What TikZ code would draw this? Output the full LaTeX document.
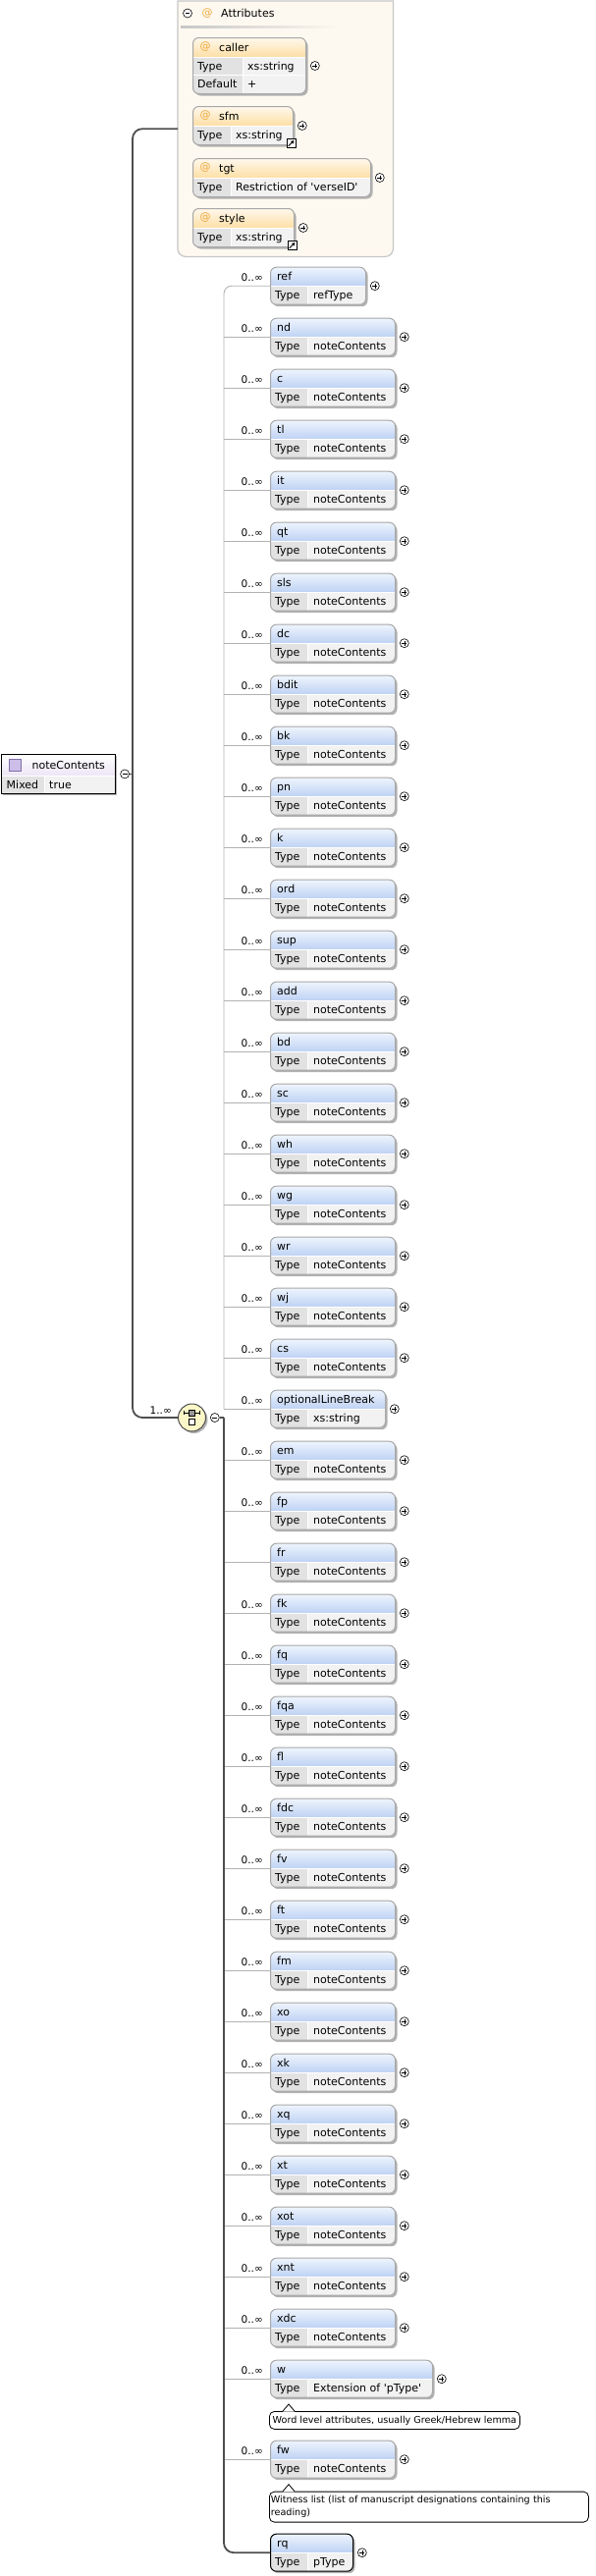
\documentclass[tikz,border=0pt]{standalone}
\usepackage{fontspec}
\setmainfont{DejaVu Sans}
\usepackage{xcolor}
\definecolor{hdtop}  {RGB}{238, 244, 253}
\definecolor{hdbot}  {RGB}{190, 210, 244}
\definecolor{keyc}   {RGB}{226, 226, 226}
\definecolor{valc}   {RGB}{242, 242, 242}
\definecolor{boxln}  {RGB}{168, 168, 168}
\definecolor{attop}  {RGB}{255, 248, 236}
\definecolor{atbot}  {RGB}{253, 222, 164}
\definecolor{atfill} {RGB}{254, 249, 240}
\definecolor{atline} {RGB}{198, 198, 198}
\definecolor{atsym}  {RGB}{238, 168, 60}
\definecolor{seqfill}{RGB}{252, 247, 200}
\definecolor{optln}  {RGB}{178, 178, 178}
\definecolor{reqln}  {RGB}{78, 78, 78}
\definecolor{nctop}  {RGB}{255, 255, 255}
\definecolor{ncbot}  {RGB}{236, 229, 246}
\definecolor{ncicon} {RGB}{204, 190, 232}
\definecolor{ncline} {RGB}{128, 112, 170}
\usetikzlibrary{arrows.meta, positioning, calc, shadows}

\begin{document}
\begin{tikzpicture}[x=1pt, y=-1pt, font=\fontsize{11}{13}\selectfont,
    sh/.style={drop shadow={shadow xshift=2pt, shadow yshift=-2pt, fill=black!30, opacity=1}},
    card/.style n args={4}{draw=boxln, line width=1pt, rounded corners=6pt, anchor=north west, inner sep=0pt, sh,
        path picture={
            \coordinate (pa) at (path picture bounding box.north west);
            \coordinate (pb) at (path picture bounding box.south east);
            \fill[valc, sharp corners] (pa) rectangle (pb);
            \fill[keyc, sharp corners] (pa) rectangle ($(pb-|pa)+(#3,0)$);
            \shade[sharp corners, top color=#1, bottom color=#2] (pa) rectangle ($(pb|-pa)+(0,#4)$);
            \draw[white, line width=0.8pt] ($(pa)+(0,#4)$) -- ($(pb|-pa)+(0,#4)$);
            \draw[white, line width=0.8pt] ($(pa)+(#3,#4)$) -- ($(pb-|pa)+(#3,0)$);
        }},
    elem/.style={card={hdtop}{hdbot}{38}{19}, minimum height=38pt},
    tag/.style={anchor=base west, inner sep=0pt},
    occ/.style={anchor=base east, inner sep=0pt, font=\fontsize{10.5}{12}\selectfont},
    sign/.style={circle, draw, fill=white, line width=0.6pt, minimum size=9pt, inner sep=0pt},
    plus/.style={sign, path picture={\draw[line width=0.6pt] (path picture bounding box.center) +(-2.4,0) -- +(2.4,0) +(0,-2.4) -- +(0,2.4);}},
    minus/.style={sign, path picture={\draw[line width=0.6pt] (path picture bounding box.center) +(-2.4,0) -- +(2.4,0);}},
    opt/.style={draw=optln, line width=0.9pt},
    req/.style={draw=reqln, line width=1.8pt},
    ann/.style={draw, fill=white, rounded corners=5pt, line width=0.8pt, anchor=north west, inner xsep=1.5pt, inner ysep=0pt, align=left, font=\fontsize{9.6}{13}\selectfont}]
    \useasboundingbox (0,0) rectangle (607,2624);
    \coordinate (rt) at (135,0);
    \coordinate (tk) at (228,0);

    % attribute group
    \node[minimum width=219pt, minimum height=260pt, anchor=north west, inner sep=0pt] (attrs) at (181,1) {};
    \draw[atline, fill=atfill, line width=1.2pt] (attrs.north west) -- (attrs.north east) [rounded corners=8pt] -- (attrs.south east) -- (attrs.south west) [sharp corners] -- cycle;
    \node[minus] (attrs-m) at (191,13.5) {};
    \node[text=atsym] (attrs-a) at (211,13.5) {@};
    \node[tag] (attrs-n) at (225,17.5) {Attributes};
    \shade[left color=black!22, right color=atfill] (184,26) rectangle (350,28);
    \foreach \j/\nm/\tp/\y/\w/\h/\kw in {1/caller/xs:string/38/115/57/51, 2/sfm/xs:string/108/102/39/39,
        3/tgt/{Restriction of \textquotesingle verseID\textquotesingle}/161/181/39/39, 4/style/xs:string/212/103/39/39}
    {
        \node[card={attop}{atbot}{\kw}{20}, minimum width=\w pt, minimum height=\h pt] (a\j) at (196,\y) {};
        \node[text=atsym] (a\j-a) at ([xshift=13pt, yshift=-10pt]a\j.north west) {@};
        \node[tag] (a\j-n) at ([xshift=27pt, yshift=-14pt]a\j.north west) {\nm};
        \node[tag] (a\j-k) at ([xshift=5pt, yshift=-33.5pt]a\j.north west) {Type};
        \node[tag] (a\j-v) at ([xshift=\kw pt+5pt, yshift=-33.5pt]a\j.north west) {\tp};
        \node[plus, right=4pt of a\j] (a\j-p) {};
    }
    \draw[white, line width=0.8pt] ([xshift=0.6pt, yshift=-38pt]a1.north west) -- ([xshift=-0.6pt, yshift=-38pt]a1.north east);
    \node[tag] (a1-d) at ([xshift=5pt, yshift=-51.5pt]a1.north west) {Default};
    \node[tag] (a1-dv) at ([xshift=56pt, yshift=-51.5pt]a1.north west) {+};
    \foreach \j in {2,4}
    {
        \node[draw, fill=white, line width=0.8pt, minimum size=9pt, inner sep=0pt] (a\j-l) at ([xshift=-2.5pt, yshift=2pt]a\j.south east) {};
        \draw[line width=1pt, -{Triangle[length=3pt, width=3.5pt]}] ([shift={(-2.8,2.8)}]a\j-l.center) -- ([shift={(2.9,-2.9)}]a\j-l.center);
    }

    % root element
    \node[card={nctop}{ncbot}{44}{22}, draw=black, line width=0.8pt, sharp corners, minimum width=116pt, minimum height=40pt] (root) at (1,768) {};
    \node[draw=ncline, fill=ncicon, line width=0.6pt, minimum size=12pt, inner sep=0pt] (root-i) at ([xshift=14.5pt, yshift=-11pt]root.north west) {};
    \node[tag] (root-n) at ([xshift=31.5pt, yshift=-15.5pt]root.north west) {noteContents};
    \node[tag] (root-k) at ([xshift=5.5pt, yshift=-35.5pt]root.north west) {Mixed};
    \node[tag] (root-v) at ([xshift=49pt, yshift=-35.5pt]root.north west) {true};
    \node[minus, right=4.5pt of root] (root-m) {};

    % sequence
    \node[circle, draw=reqln, fill=seqfill, line width=1pt, minimum size=28pt, inner sep=0pt, sh] (seq) at (195.5,1444) {};
    \node[minus, right=4pt of seq] (seq-m) {};
    \node[occ] (seq-o) at ([xshift=-6pt, yshift=3.5pt]seq.west) {1..∞};
    \draw[line width=0.7pt] ([shift={(-8,-4.7)}]seq.center) -- ([shift={(8,-4.7)}]seq.center)
        ([shift={(-8,-6.7)}]seq.center) -- ([shift={(-8,-2.7)}]seq.center)
        ([shift={(8,-6.7)}]seq.center) -- ([shift={(8,-2.7)}]seq.center);
    \draw[fill=black!40, line width=0.6pt] ([shift={(-3,-7.7)}]seq.center) rectangle ([shift={(3,-1.7)}]seq.center);
    \draw[fill=white, line width=0.6pt] ([shift={(-3,1.3)}]seq.center) rectangle ([shift={(3,7.5)}]seq.center);

    % children
    \foreach \i/\nm/\tp/\w/\oc in {0/ref/refType/97/1, 1/nd/noteContents/127/1, 2/c/noteContents/127/1,
        3/tl/noteContents/127/1, 4/it/noteContents/127/1, 5/qt/noteContents/127/1, 6/sls/noteContents/127/1,
        7/dc/noteContents/127/1, 8/bdit/noteContents/127/1, 9/bk/noteContents/127/1, 10/pn/noteContents/127/1,
        11/k/noteContents/127/1, 12/ord/noteContents/127/1, 13/sup/noteContents/127/1, 14/add/noteContents/127/1,
        15/bd/noteContents/127/1, 16/sc/noteContents/127/1, 17/wh/noteContents/127/1, 18/wg/noteContents/127/1,
        19/wr/noteContents/127/1, 20/wj/noteContents/127/1, 21/cs/noteContents/127/1,
        22/optionalLineBreak/xs:string/117/1, 23/em/noteContents/127/1, 24/fp/noteContents/127/1,
        25/fr/noteContents/127/0, 26/fk/noteContents/127/1, 27/fq/noteContents/127/1, 28/fqa/noteContents/127/1,
        29/fl/noteContents/127/1, 30/fdc/noteContents/127/1, 31/fv/noteContents/127/1, 32/ft/noteContents/127/1,
        33/fm/noteContents/127/1, 34/xo/noteContents/127/1, 35/xk/noteContents/127/1, 36/xq/noteContents/127/1,
        37/xt/noteContents/127/1, 38/xot/noteContents/127/1, 39/xnt/noteContents/127/1, 40/xdc/noteContents/127/1,
        41/w/{Extension of \textquotesingle pType\textquotesingle}/165/1, 42/fw/noteContents/127/1, 43/rq/pType/84/0}
    {
        \pgfmathsetmacro\ty{271.7+52*\i+30*(\i>41)+43*(\i>42)}
        \ifnum\i=43 \def\bl{black}\else\def\bl{boxln}\fi
        \node[elem, draw=\bl, minimum width=\w pt] (e\i) at (275,\ty) {};
        \node[tag] (e\i-n) at ([xshift=7pt, yshift=-13.5pt]e\i.north west) {\nm};
        \node[tag] (e\i-k) at ([xshift=5pt, yshift=-32.5pt]e\i.north west) {Type};
        \node[tag] (e\i-v) at ([xshift=44pt, yshift=-32.5pt]e\i.north west) {\tp};
        \node[plus, right=4pt of e\i] (e\i-p) {};
        \ifnum\oc=1 \node[occ] (e\i-o) at ([xshift=-7pt, yshift=4.5pt]e\i.west) {0..∞};\fi
        \ifnum\i>0 \ifnum\i<43 \draw[opt] (e\i.west) -- (e\i.west -| tk);\fi\fi
    }

    % documentation bubbles
    \node[ann, minimum width=255pt, minimum height=18pt] (e41-c) at ([xshift=-1pt, yshift=-13.3pt]e41.south west) {Word level attributes, usually Greek/Hebrew lemma};
    \node[ann, text width=322pt, minimum height=31pt] (e42-c) at ([xshift=-1pt, yshift=-13pt]e42.south west) {Witness list (list of manuscript designations containing this\\reading)};
    \foreach \an in {e41-c, e42-c}
    {
        \fill[white] ([xshift=14pt, yshift=-0.6pt]\an.north west) -- ([xshift=20pt, yshift=7pt]\an.north west) -- ([xshift=26pt, yshift=-0.6pt]\an.north west) -- cycle;
        \draw[line width=0.8pt] ([xshift=14pt]\an.north west) -- ([xshift=20pt, yshift=7pt]\an.north west) -- ([xshift=26pt]\an.north west);
    }

    % connectors
    \draw[opt, rounded corners=8pt] (e0.west) -- (e0.west -| tk) -- (e22.west -| tk);
    \draw[req] (seq-m.east) -- (seq-m.east -| tk);
    \draw[req, rounded corners=10pt] (seq-m.east -| tk) -- (e43.west -| tk) -- (e43.west);
    \draw[req] (root-m.east) -- (root-m.east -| rt);
    \draw[req, rounded corners=10pt] (attrs.west) -- (attrs.west -| rt) -- (seq.west -| rt) -- (seq.west);
\end{tikzpicture}
\end{document}
